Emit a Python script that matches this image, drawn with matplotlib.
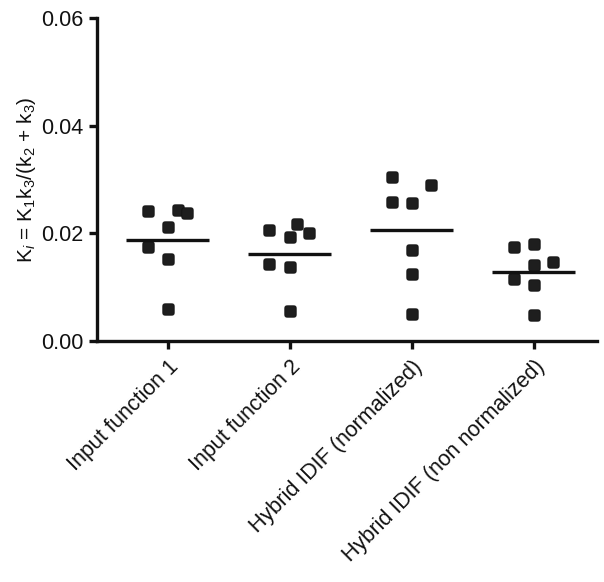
import matplotlib
matplotlib.use("Agg")
import matplotlib.pyplot as plt
from matplotlib.path import Path
import numpy as np

plt.rcParams['font.family'] = ['Liberation Sans', 'DejaVu Sans']
plt.rcParams['mathtext.fontset'] = 'custom'
plt.rcParams['mathtext.rm'] = 'Liberation Sans'
plt.rcParams['mathtext.it'] = 'Liberation Sans:italic'
plt.rcParams['mathtext.default'] = 'regular'

categories = ["Input function 1", "Input function 2",
              "Hybrid IDIF (normalized)", "Hybrid IDIF (non normalized)"]
input_function_1 = [0.0241, 0.0244, 0.0237, 0.0211, 0.0174, 0.0152, 0.0059]
input_function_2 = [0.0206, 0.0217, 0.0200, 0.0193, 0.0144, 0.0137, 0.0056]
hybrid_normalized = [0.0304, 0.0289, 0.0259, 0.0257, 0.0169, 0.0124, 0.0050]
hybrid_non_normalized = [0.0174, 0.0181, 0.0146, 0.0141, 0.0115, 0.0104, 0.0048]
medians = [0.0188, 0.0161, 0.0207, 0.0128]
yticks = [0.00, 0.02, 0.04, 0.06]

series = [input_function_1, input_function_2, hybrid_normalized, hybrid_non_normalized]
# horizontal jitter (layout only)
jitter = [
    [-0.16, 0.08, 0.16, 0.0, -0.16, 0.0, 0.0],
    [-0.17, 0.06, 0.16, 0.0, -0.17, 0.0, 0.0],
    [-0.16, 0.16, -0.16, 0.0, 0.0, 0.0, 0.0],
    [-0.16, 0.0, 0.16, 0.0, -0.16, 0.0, 0.0],
]

# rounded-square marker shape
t = np.linspace(0, 2 * np.pi, 80)
ex = 0.3
mx = np.sign(np.cos(t)) * np.abs(np.cos(t)) ** ex
my = np.sign(np.sin(t)) * np.abs(np.sin(t)) ** ex
rsq = Path(np.column_stack([mx, my]), closed=True)

fig = plt.figure(figsize=(6.04, 5.82), dpi=100)
ax = fig.add_axes([0.1606, 0.414, 0.828, 0.555])

for i, vals in enumerate(series):
    xs = [i + j for j in jitter[i]]
    ax.plot(xs, vals, linestyle='none', marker=rsq, markersize=8.2,
            color='#1e1e1e', markeredgecolor='#111111', markeredgewidth=0.6)
    ax.plot([i - 0.34, i + 0.34], [medians[i], medians[i]], color='#111111',
            linewidth=2.4, solid_capstyle='butt')

ax.set_xlim(-0.58, 3.52)
ax.set_ylim(0, 0.06)
ax.set_yticks(yticks)
ax.set_yticklabels([f"{t:.2f}" for t in yticks])
ax.set_xticks(range(len(categories)))
ax.set_xticklabels(categories, rotation=45, ha='right', rotation_mode='anchor')

for s in ['top', 'right']:
    ax.spines[s].set_visible(False)
for s in ['left', 'bottom']:
    ax.spines[s].set_linewidth(2.4)
    ax.spines[s].set_color('#111111')
ax.tick_params(axis='both', width=2.4, length=6, color='#111111',
               labelsize=15.5, labelcolor='#111111', pad=4)
ax.tick_params(axis='x', pad=5)

ax.set_ylabel(r'K$_{\mathit{i}}$ = K$_1$k$_3$/(k$_2$ + k$_3$)', fontsize=15,
              color='#111111', labelpad=2)

fig.savefig("out.png", dpi=100)
